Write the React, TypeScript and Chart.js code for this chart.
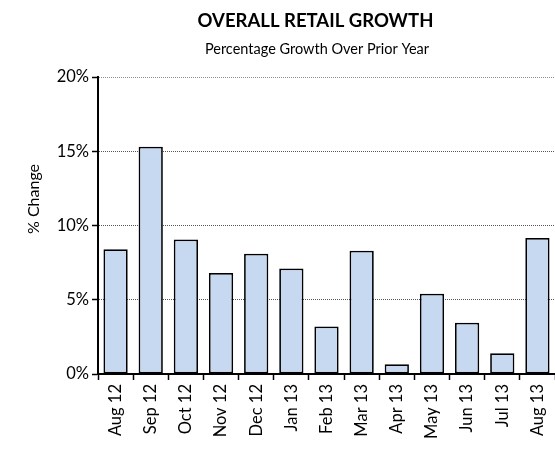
import React, { useEffect, useRef } from 'react';
import { Chart, registerables } from 'chart.js';

Chart.register(...registerables);

const categories = ['Aug 12', 'Sep 12', 'Oct 12', 'Nov 12', 'Dec 12', 'Jan 13', 'Feb 13', 'Mar 13', 'Apr 13', 'May 13', 'Jun 13', 'Jul 13', 'Aug 13'];
const growthValues = [8.4, 15.3, 9.05, 6.8, 8.1, 7.1, 3.2, 8.3, 0.65, 5.4, 3.45, 1.4, 9.15];
const yTickValues = [0, 5, 10, 15, 20];

const titleText = 'OVERALL RETAIL GROWTH';
const subtitleText = 'Percentage Growth Over Prior Year';
const yAxisTitle = '% Change';

const FONT = 'Lato, "Open Sans", sans-serif';

const titlesPlugin = {
  id: 'excelTitles',
  afterDraw(chart: any) {
    const ctx = chart.ctx;
    const { left, right } = chart.chartArea;
    const cx = (left + right) / 2 - 11;
    ctx.save();
    ctx.fillStyle = '#000';
    ctx.textAlign = 'center';
    ctx.textBaseline = 'alphabetic';
    ctx.font = `bold 18.5px ${FONT}`;
    ctx.fillText(titleText, cx, 27);
    ctx.font = `14.5px ${FONT}`;
    ctx.fillText(subtitleText, cx + 1.5, 54);
    ctx.translate(38.5, 199);
    ctx.rotate(-Math.PI / 2);
    ctx.font = `16px ${FONT}`;
    ctx.fillText(yAxisTitle, 0, 0);
    ctx.restore();
  },
};

export default function App() {
  const ref = useRef<HTMLCanvasElement>(null);

  useEffect(() => {
    document.body.style.margin = '0';
    const chart = new Chart(ref.current as HTMLCanvasElement, {
      type: 'bar',
      data: {
        labels: categories,
        datasets: [
          {
            data: growthValues,
            backgroundColor: '#c6d9f1',
            borderColor: '#000',
            borderWidth: 1.75,
            borderSkipped: false,
            barPercentage: 0.69,
            categoryPercentage: 1,
          },
        ],
      },
      options: {
        animation: false,
        responsive: false,
        maintainAspectRatio: false,
        layout: { padding: { top: 77, left: 0, right: 0, bottom: 0 } },
        plugins: {
          legend: { display: false },
          tooltip: { enabled: false },
          title: { display: false },
        },
        scales: {
          x: {
            type: 'category',
            offset: true,
            grid: {
              display: true,
              drawOnChartArea: false,
              drawTicks: true,
              tickLength: 6,
              tickColor: '#000',
              tickWidth: 1.5,
              offset: true,
            },
            border: { display: true, color: '#000', width: 2 },
            ticks: {
              color: '#000',
              font: { family: FONT, size: 16.5 },
              minRotation: 90,
              maxRotation: 90,
              autoSkip: false,
              padding: 4,
            },
            afterFit: (s: any) => {
              s.height = 78;
              s.paddingLeft = 0;
              s.paddingRight = 0;
            },
          },
          y: {
            min: 0,
            max: 20,
            grid: {
              color: (c: any) => (c.tick && c.tick.value === 20 ? '#8c8c8c' : '#555'),
              lineWidth: 1,
              drawTicks: true,
              tickLength: 6,
              tickColor: '#000',
              tickWidth: 1.5,
            },
            border: { display: true, color: '#000', width: 2, dash: [1, 1] },
            ticks: {
              color: '#000',
              font: { family: FONT, size: 16.5 },
              padding: 3,
              callback: (v: any) => `${v}%`,
            },
            afterBuildTicks: (s: any) => {
              s.ticks = yTickValues.map((v) => ({ value: v }));
            },
            afterFit: (s: any) => {
              s.width = 98;
            },
          },
        },
      },
      plugins: [titlesPlugin],
    } as any);
    return () => chart.destroy();
  }, []);

  return (
    <div style={{ width: 555, height: 452 }}>
      <canvas ref={ref} width={555} height={452} style={{ display: 'block' }} />
    </div>
  );
}
